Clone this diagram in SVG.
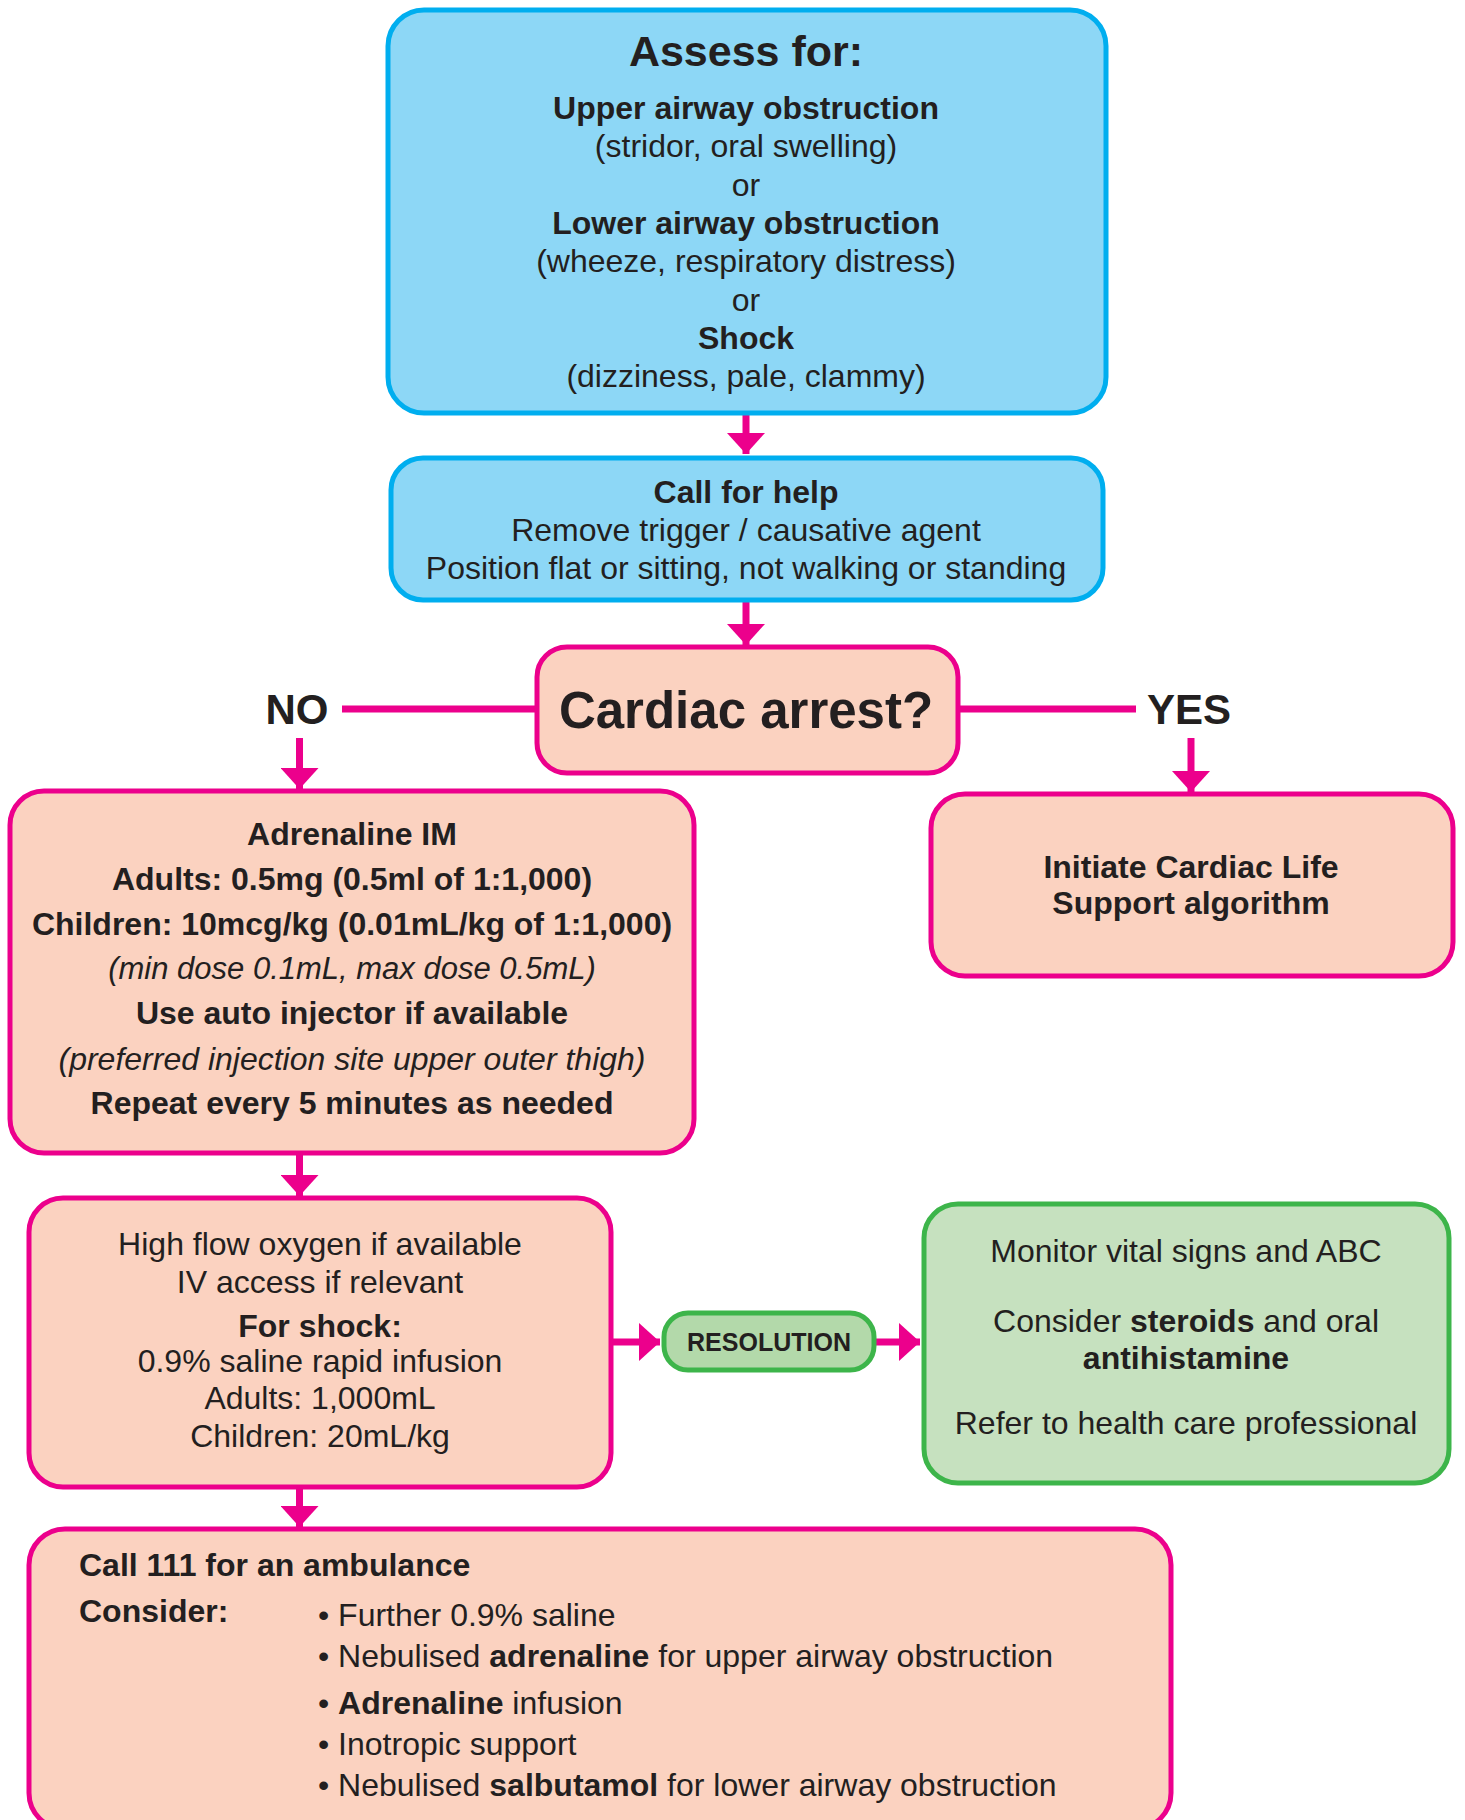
<svg xmlns="http://www.w3.org/2000/svg" width="1465" height="1820" viewBox="0 0 1465 1820">
<defs>
<style>
text{font-family:"Liberation Sans",Arial,Helvetica,sans-serif;fill:#231f20;font-size:32px}
.c{text-anchor:middle}
.b{font-weight:bold}
.i{font-style:italic}
.blue{fill:#8dd7f6;stroke:#00aeef;stroke-width:5}
.peach{fill:#fbd2c0;stroke:#ec008c;stroke-width:5}
.green{fill:#c6e1bf;stroke:#3db54a;stroke-width:5}
.pill{fill:#b3d9aa;stroke:#3db54a;stroke-width:5}
.ln{stroke:#ec008c;stroke-width:7;fill:none}
</style>
<marker id="ah" markerUnits="userSpaceOnUse" markerWidth="21" markerHeight="38" refX="21" refY="19" orient="auto" viewBox="0 0 21 38">
<path d="M0,0 L21,19 L0,38 Z" fill="#ec008c"/>
</marker>
</defs>

<g id="connectors">
<line class="ln" x1="746" y1="413" x2="746" y2="454" marker-end="url(#ah)"/>
<line class="ln" x1="746" y1="600" x2="746" y2="645" marker-end="url(#ah)"/>
<line class="ln" x1="342" y1="709" x2="536" y2="709"/>
<line class="ln" x1="958" y1="709" x2="1136" y2="709"/>
<line class="ln" x1="299.5" y1="738" x2="299.5" y2="789" marker-end="url(#ah)"/>
<line class="ln" x1="1191" y1="738" x2="1191" y2="792" marker-end="url(#ah)"/>
<line class="ln" x1="299.5" y1="1153" x2="299.5" y2="1196" marker-end="url(#ah)"/>
<line class="ln" x1="611" y1="1342" x2="660" y2="1342" marker-end="url(#ah)"/>
<line class="ln" x1="873" y1="1342" x2="920" y2="1342" marker-end="url(#ah)"/>
<line class="ln" x1="299.5" y1="1487" x2="299.5" y2="1527" marker-end="url(#ah)"/>
</g>

<g id="assess">
<rect class="blue" x="388" y="10" width="718" height="403" rx="36"/>
<text class="c b" x="746" y="66" style="font-size:43px">Assess for:</text>
<text class="c b" x="746" y="119">Upper airway obstruction</text>
<text class="c" x="746" y="157">(stridor, oral swelling)</text>
<text class="c" x="746" y="196">or</text>
<text class="c b" x="746" y="234">Lower airway obstruction</text>
<text class="c" x="746" y="272">(wheeze, respiratory distress)</text>
<text class="c" x="746" y="311">or</text>
<text class="c b" x="746" y="349">Shock</text>
<text class="c" x="746" y="387">(dizziness, pale, clammy)</text>
</g>

<g id="callhelp">
<rect class="blue" x="391" y="458" width="712" height="142" rx="32"/>
<text class="c b" x="746" y="503">Call for help</text>
<text class="c" x="746" y="541">Remove trigger / causative agent</text>
<text class="c" x="746" y="579">Position flat or sitting, not walking or standing</text>
</g>

<g id="cardiac">
<rect class="peach" x="537" y="647" width="421" height="126" rx="30"/>
<text class="c b" x="746" y="728" style="font-size:51px">Cardiac arrest?</text>
</g>

<g id="label-no">
<text class="c b" x="297" y="724" style="font-size:42px">NO</text>
</g>
<g id="label-yes">
<text class="c b" x="1189" y="724" style="font-size:42px">YES</text>
</g>

<g id="adrenaline">
<rect class="peach" x="10" y="791" width="684" height="362" rx="34"/>
<text class="c b" x="352" y="845">Adrenaline IM</text>
<text class="c b" x="352" y="890">Adults: 0.5mg (0.5ml of 1:1,000)</text>
<text class="c b" x="352" y="935">Children: 10mcg/kg (0.01mL/kg of 1:1,000)</text>
<text class="c i" x="352" y="979" style="font-size:31px">(min dose 0.1mL, max dose 0.5mL)</text>
<text class="c b" x="352" y="1024">Use auto injector if available</text>
<text class="c i" x="352" y="1070">(preferred injection site upper outer thigh)</text>
<text class="c b" x="352" y="1114">Repeat every 5 minutes as needed</text>
</g>

<g id="cls">
<rect class="peach" x="931" y="794" width="522" height="182" rx="34"/>
<text class="c b" x="1191" y="878">Initiate Cardiac Life</text>
<text class="c b" x="1191" y="914">Support algorithm</text>
</g>

<g id="oxygen">
<rect class="peach" x="29" y="1198" width="582" height="289" rx="34"/>
<text class="c" x="320" y="1255">High flow oxygen if available</text>
<text class="c" x="320" y="1293">IV access if relevant</text>
<text class="c b" x="320" y="1337">For shock:</text>
<text class="c" x="320" y="1372">0.9% saline rapid infusion</text>
<text class="c" x="320" y="1409">Adults: 1,000mL</text>
<text class="c" x="320" y="1447">Children: 20mL/kg</text>
</g>

<g id="resolution">
<rect class="pill" x="664" y="1313" width="210" height="57" rx="24"/>
<text class="c b" x="769" y="1351" style="font-size:25px">RESOLUTION</text>
</g>

<g id="monitor">
<rect class="green" x="924" y="1204" width="525" height="279" rx="34"/>
<text class="c" x="1186" y="1262">Monitor vital signs and ABC</text>
<text class="c" x="1186" y="1332">Consider <tspan class="b">steroids</tspan> and oral</text>
<text class="c b" x="1186" y="1369">antihistamine</text>
<text class="c" x="1186" y="1434">Refer to health care professional</text>
</g>

<g id="ambulance">
<rect class="peach" x="29" y="1529" width="1142" height="300" rx="36"/>
<text class="b" x="79" y="1576">Call 111 for an ambulance</text>
<text class="b" x="79" y="1622">Consider:</text>
<text x="318" y="1626">• Further 0.9% saline</text>
<text x="318" y="1667">• Nebulised <tspan class="b">adrenaline</tspan> for upper airway obstruction</text>
<text x="318" y="1714">• <tspan class="b">Adrenaline</tspan> infusion</text>
<text x="318" y="1755">• Inotropic support</text>
<text x="318" y="1796">• Nebulised <tspan class="b">salbutamol</tspan> for lower airway obstruction</text>
</g>
</svg>
